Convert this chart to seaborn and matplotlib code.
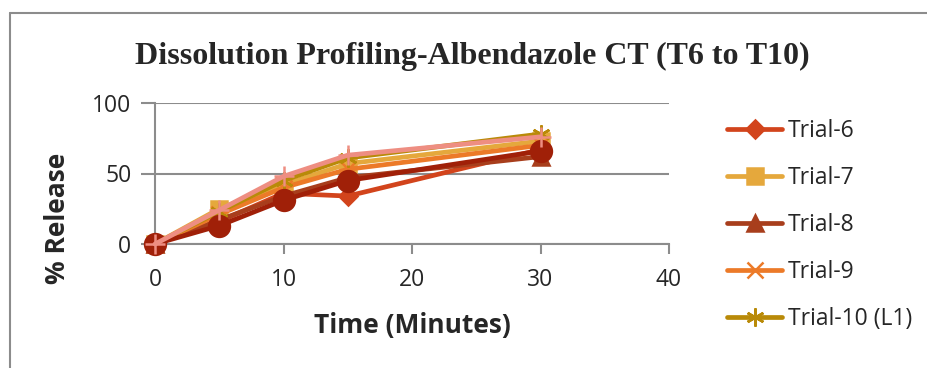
import matplotlib
matplotlib.use("Agg")
import matplotlib.pyplot as plt
from matplotlib.lines import Line2D
import seaborn as sns
import pandas as pd

# Sampling times (minutes)
time_min = [0, 5, 10, 15, 30]

# Cumulative % drug release per trial
trial_6 = [0, 16, 36, 34, 67]
trial_7 = [0, 25, 42, 57, 73]
trial_8 = [0, 17, 34, 47, 62]
trial_9 = [0, 21, 40, 53, 70]
trial_10 = [0, 23, 45, 61, 78]
trial_11 = [0, 13, 31, 45, 66]
trial_12 = [0, 24, 48, 63, 76]

series_names = ["Trial-6", "Trial-7", "Trial-8", "Trial-9", "Trial-10 (L1)",
                "Trial-11", "Trial-12"]
series_values = [trial_6, trial_7, trial_8, trial_9, trial_10, trial_11, trial_12]
colors = ["#D2441C", "#E5A83C", "#A83E1C", "#EC7A28", "#B98A08", "#A02008", "#EE8E82"]
markers = ["D", "s", "^", "x", (6, 2, 0), "o", "+"]
marker_sizes = [9, 11, 11, 12, 13, 15, 14]

x_ticks = [0, 10, 20, 30, 40]
y_ticks = [0, 50, 100]

df = pd.DataFrame({
    "Time": time_min * len(series_names),
    "Release": [v for vals in series_values for v in vals],
    "Trial": [n for n in series_names for _ in time_min],
})

sns.set_theme(style="white")
plt.rcParams["font.family"] = ["Open Sans", "DejaVu Sans"]

fig = plt.figure(figsize=(9.27, 3.68), dpi=100)
ax = fig.add_axes([155 / 927, 1 - 244 / 368, 514 / 927, 141 / 368])

grey = "#8C8C8C"
for i, name in enumerate(series_names):
    sub = df[df["Trial"] == name]
    sns.lineplot(data=sub, x="Time", y="Release", ax=ax, color=colors[i],
                 linewidth=3.4, marker=markers[i], markersize=marker_sizes[i],
                 markeredgecolor=colors[i], markeredgewidth=1.8,
                 label=name, zorder=3 + i, clip_on=False)

ax.set_xlim(0, 40)
ax.set_ylim(0, 100)
ax.set_xticks(x_ticks)
ax.set_yticks(y_ticks)
ax.yaxis.grid(True, color=grey, linewidth=1.5)
ax.set_axisbelow(True)
for side in ["top", "right"]:
    ax.spines[side].set_visible(False)
for side in ["left", "bottom"]:
    ax.spines[side].set_color(grey)
    ax.spines[side].set_linewidth(1.5)
ax.tick_params(axis="y", length=10, width=1.5, color=grey, pad=7, labelsize=16.5)
ax.tick_params(axis="x", length=7, width=1.5, color=grey, pad=10, labelsize=16.5,
               direction="out")
ax.tick_params(axis="both", which="both", left=True, bottom=True)

ax.set_xlabel("Time (Minutes)", fontsize=19, fontweight="bold", labelpad=15)
ax.set_ylabel("% Release", fontsize=19, fontweight="bold")
ax.yaxis.set_label_coords(-0.163, 0.18)

fig.text(0.51, 1 - 56 / 368, "Dissolution Profiling-Albendazole CT (T6 to T10)",
         ha="center", va="center", fontsize=23, fontweight="bold",
         family="Liberation Serif")

# Legend lists the first five trials
handles, labels = ax.get_legend_handles_labels()
leg = ax.legend(handles[:5], labels[:5], loc="upper left",
                bbox_to_anchor=(718 / 927, 1 - 110 / 368), bbox_transform=fig.transFigure,
                frameon=False, fontsize=16.5, labelspacing=1.0, handlelength=2.4,
                handletextpad=0.25, borderaxespad=0)

# Chart frame
fig.add_artist(Line2D([9.5 / 927, 9.5 / 927], [0, 1 - 12.5 / 368],
                      transform=fig.transFigure, color=grey, linewidth=1.5))
fig.add_artist(Line2D([9.5 / 927, 1], [1 - 12.5 / 368, 1 - 12.5 / 368],
                      transform=fig.transFigure, color=grey, linewidth=1.5))

fig.savefig("out.png", dpi=100)
